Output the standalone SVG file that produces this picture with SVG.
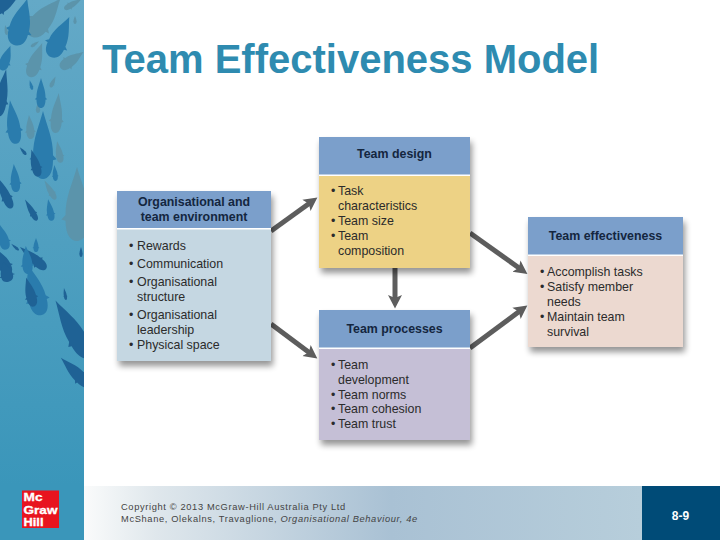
<svg xmlns="http://www.w3.org/2000/svg" width="720" height="540" viewBox="0 0 720 540">
<style>
text{font-family:"Liberation Sans",Arial,sans-serif}
.t{font-size:12.4px;fill:#2b2b2b}
.h{font-size:12.4px;font-weight:bold;fill:#14263f;text-anchor:middle}
.hd{fill:#7b9fcb}
.a{fill:none;stroke:#5d5d5d;stroke-width:5;marker-end:url(#ah)}
.b{fill:#2a7cad}.d{fill:#1f6295}.g{fill:#5b94ab}
.foot{font-size:9.3px;fill:#444;letter-spacing:.64px}
.logo{font-size:10.7px;font-weight:bold;fill:#fff;stroke:#fff;stroke-width:.3px}
</style>
<defs>
<linearGradient id="side" x1="0" y1="0" x2="0" y2="1"><stop offset="0" stop-color="#64a9c7"/><stop offset=".5" stop-color="#4f9fc0"/><stop offset="1" stop-color="#3a96ba"/></linearGradient>
<linearGradient id="bar" x1="0" y1="0" x2="1" y2="0"><stop offset="0" stop-color="#fafbfb"/><stop offset=".13" stop-color="#dfe7ec"/><stop offset=".55" stop-color="#a9c1d4"/><stop offset="1" stop-color="#b7cedb"/></linearGradient>
<filter id="sh" x="-10%" y="-10%" width="125%" height="125%"><feGaussianBlur in="SourceAlpha" stdDeviation="3"/><feOffset dx="2" dy="5"/><feComponentTransfer><feFuncA type="linear" slope=".42"/></feComponentTransfer><feMerge><feMergeNode/><feMergeNode in="SourceGraphic"/></feMerge></filter>
<marker id="ah" markerUnits="userSpaceOnUse" markerWidth="18" markerHeight="18" refX="5" refY="9" orient="auto"><path d="M0,2 L13.500,9 L0,16 L3,9Z" fill="#5d5d5d"/></marker>
<path id="f" d="M0,-1 C.2,-.55 .5,-.2 .5,.3 L.68,.42 L.5,.45 C.5,.85 .25,1 0,1 C-.25,1 -.5,.85 -.5,.45 L-.68,.42 L-.5,.3 C-.5,-.2 -.2,-.55 0,-1Z"/>
<clipPath id="sc"><rect width="84" height="540"/></clipPath>
</defs>
<rect width="720" height="540" fill="#fff"/>
<g id="sidebar" clip-path="url(#sc)">
<rect width="84" height="486" fill="url(#side)"/>
<rect y="485" width="84" height="55" fill="#3a96ba"/>
<use href="#f" class="g" transform="translate(45,17) rotate(40) scale(20,24)"/>
<use href="#f" class="g" transform="translate(73,4) rotate(60) scale(6,10)"/>
<use href="#f" class="g" transform="translate(36,60) rotate(20) scale(13,18)"/>
<use href="#f" class="g" transform="translate(35,44) rotate(55) scale(3,5)"/>
<use href="#f" class="g" transform="translate(72,60) rotate(55) scale(11,14)"/>
<use href="#f" class="g" transform="translate(53,82) rotate(25) scale(4,6)"/>
<use href="#f" class="g" transform="translate(38,108) scale(4,5)"/>
<use href="#f" class="g" transform="translate(57,113) rotate(5) scale(11,20)"/>
<use href="#f" class="g" transform="translate(30,127) rotate(-5) scale(8,12)"/>
<use href="#f" class="g" transform="translate(59,152) rotate(-10) scale(7,11)"/>
<use href="#f" class="g" transform="translate(50,190) rotate(-30) scale(6,11)"/>
<use href="#f" class="g" transform="translate(77,204) scale(23,37)"/>
<use href="#f" class="d" transform="translate(5,4) rotate(60) scale(13,16)"/>
<use href="#f" class="b" transform="translate(21,22) rotate(15) scale(20,24)"/>
<use href="#f" class="b" transform="translate(60,37) rotate(25) scale(18,22)"/>
<use href="#f" class="g" transform="translate(75,20) scale(3,4)"/>
<use href="#f" class="g" transform="translate(6,30) rotate(-10) scale(3,5)"/>
<use href="#f" class="b" transform="translate(6,58) rotate(20) scale(10,13)"/>
<use href="#f" class="d" transform="translate(2,93) rotate(10) scale(12,24)"/>
<use href="#f" class="b" transform="translate(31,85) rotate(-15) scale(3,5)"/>
<use href="#f" class="b" transform="translate(41,93) scale(9,15)"/>
<use href="#f" class="b" transform="translate(13,122) rotate(-8) scale(13,22)"/>
<use href="#f" class="b" transform="translate(43,145) scale(20,34)"/>
<use href="#f" class="d" transform="translate(35,163) rotate(-15) scale(9,14)"/>
<use href="#f" class="d" transform="translate(23,151) rotate(-40) scale(3,5)"/>
<use href="#f" class="b" transform="translate(55,173) rotate(-5) scale(5,8)"/>
<use href="#f" class="b" transform="translate(15,178) rotate(-5) scale(9,14)"/>
<use href="#f" class="d" transform="translate(4,192) rotate(-25) scale(9,18)"/>
<use href="#f" class="d" transform="translate(31,210) rotate(-30) scale(6,12)"/>
<use href="#f" class="b" transform="translate(50,210) rotate(-10) scale(7,11)"/>
<use href="#f" class="b" transform="translate(3,237) rotate(-15) scale(10,13)"/>
<use href="#f" class="d" transform="translate(15,247) rotate(-50) scale(2.500,5)"/>
<use href="#f" class="b" transform="translate(36,245) scale(5,7)"/>
<use href="#f" class="d" transform="translate(33,258) rotate(-50) scale(10,17)"/>
<use href="#f" class="b" transform="translate(27,260) rotate(-5) scale(10,14)"/>
<use href="#f" class="d" transform="translate(3,262) rotate(-25) scale(12,14)"/>
<use href="#f" class="d" transform="translate(81,252) scale(3,5)"/>
<use href="#f" class="d" transform="translate(6,272) rotate(-15) scale(12,10)"/>
<use href="#f" class="b" transform="translate(35,290) rotate(-15) scale(18,26)"/>
<use href="#f" class="d" transform="translate(30,292) rotate(-15) scale(10,15)"/>
<use href="#f" class="d" transform="translate(65,294) rotate(-10) scale(3,6)"/>
<use href="#f" class="d" transform="translate(72,329) rotate(-30) scale(18,33)"/>
<use href="#f" class="d" transform="translate(75,372) rotate(-45) scale(12,20)"/>
</g>
<g id="logo">
<rect x="22" y="490.500" width="37" height="37.500" fill="#e8141f"/>
<text class="logo" x="23.500" y="501" textLength="19" lengthAdjust="spacingAndGlyphs">Mc</text>
<text class="logo" x="23.500" y="513.500" textLength="34" lengthAdjust="spacingAndGlyphs">Graw</text>
<text class="logo" x="23.500" y="526" textLength="20" lengthAdjust="spacingAndGlyphs">Hill</text>
</g>
<text id="title" x="102" y="73" font-weight="bold" fill="#2e8bb0" style="font-size:40px">Team Effectiveness Model</text>
<g id="connectors">
<path class="a" d="M271,231 L310.500,202.500"/>
<path class="a" d="M271,324 L310.500,353.500"/>
<path class="a" d="M470,233 L520.500,269"/>
<path class="a" d="M470,348 L520.500,310.500"/>
<path class="a" d="M395,268 L395,300"/>
</g>
<g id="org-env">
<g filter="url(#sh)"><rect x="117" y="191" width="154" height="170" fill="#fff"/></g>
<rect class="hd" x="117" y="191" width="154" height="37"/>
<rect x="117" y="229.500" width="154" height="131.500" fill="#c5d7e2"/>
<text class="h" x="194" y="206">Organisational and</text>
<text class="h" x="194" y="221">team environment</text>
<text class="t" y="250"><tspan x="129">•</tspan><tspan x="137">Rewards</tspan></text>
<text class="t" y="268"><tspan x="129">•</tspan><tspan x="137">Communication</tspan></text>
<text class="t" y="285.500"><tspan x="129">•</tspan><tspan x="137">Organisational</tspan></text>
<text class="t" x="137" y="300.500">structure</text>
<text class="t" y="318.500"><tspan x="129">•</tspan><tspan x="137">Organisational</tspan></text>
<text class="t" x="137" y="333.500">leadership</text>
<text class="t" y="348.500"><tspan x="129">•</tspan><tspan x="137">Physical space</tspan></text>
</g>
<g id="team-design">
<g filter="url(#sh)"><rect x="319" y="137" width="151" height="131" fill="#fff"/></g>
<rect class="hd" x="319" y="137" width="151" height="37.500"/>
<rect x="319" y="176" width="151" height="92" fill="#edd285"/>
<text class="h" x="394.500" y="158">Team design</text>
<text class="t" y="195"><tspan x="331">•</tspan><tspan x="338">Task</tspan></text>
<text class="t" x="338" y="210">characteristics</text>
<text class="t" y="225"><tspan x="331">•</tspan><tspan x="338">Team size</tspan></text>
<text class="t" y="240"><tspan x="331">•</tspan><tspan x="338">Team</tspan></text>
<text class="t" x="338" y="255">composition</text>
</g>
<g id="team-processes">
<g filter="url(#sh)"><rect x="319" y="310" width="151" height="130" fill="#fff"/></g>
<rect class="hd" x="319" y="310" width="151" height="37.500"/>
<rect x="319" y="349" width="151" height="91" fill="#c5bfd6"/>
<text class="h" x="394.500" y="333">Team processes</text>
<text class="t" y="368.500"><tspan x="331">•</tspan><tspan x="338">Team</tspan></text>
<text class="t" x="338" y="383.500">development</text>
<text class="t" y="398.500"><tspan x="331">•</tspan><tspan x="338">Team norms</tspan></text>
<text class="t" y="413"><tspan x="331">•</tspan><tspan x="338">Team cohesion</tspan></text>
<text class="t" y="428"><tspan x="331">•</tspan><tspan x="338">Team trust</tspan></text>
</g>
<g id="team-effectiveness">
<g filter="url(#sh)"><rect x="528" y="217" width="155" height="130" fill="#fff"/></g>
<rect class="hd" x="528" y="217" width="155" height="37.500"/>
<rect x="528" y="256" width="155" height="91" fill="#ecd9d0"/>
<text class="h" x="605.500" y="240">Team effectiveness</text>
<text class="t" y="276"><tspan x="540">•</tspan><tspan x="547">Accomplish tasks</tspan></text>
<text class="t" y="291"><tspan x="540">•</tspan><tspan x="547">Satisfy member</tspan></text>
<text class="t" x="547" y="306">needs</text>
<text class="t" y="321"><tspan x="540">•</tspan><tspan x="547">Maintain team</tspan></text>
<text class="t" x="547" y="336">survival</text>
</g>
<g id="footer">
<rect x="84" y="486" width="558" height="54" fill="url(#bar)"/>
<rect x="642" y="486" width="78" height="54" fill="#004b77"/>
<text class="foot" x="121" y="510">Copyright © 2013 McGraw-Hill Australia Pty Ltd</text>
<text class="foot" x="121" y="522">McShane, Olekalns, Travaglione, <tspan font-style="italic">Organisational Behaviour, 4e</tspan></text>
<text x="680.500" y="520" font-weight="bold" fill="#fff" text-anchor="middle" style="font-size:12px">8-9</text>
</g>
</svg>
